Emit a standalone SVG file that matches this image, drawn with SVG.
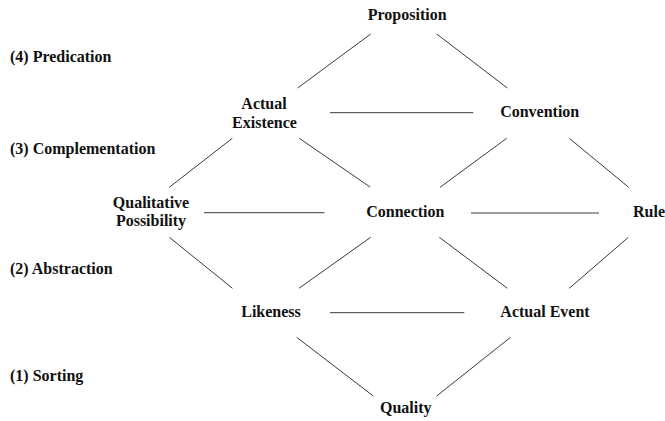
<svg xmlns="http://www.w3.org/2000/svg" width="665" height="421" viewBox="0 0 665 421">
  <style>
    .t { font-family: 'Liberation Serif', 'Times New Roman', 'DejaVu Serif', serif; font-weight: 700; font-size: 16px; fill: #111; }
    .n { text-anchor: middle; }
    .s { text-anchor: start; }
    #connectors line { stroke: #3a3a3a; stroke-width: 1; }
  </style>
  <rect width="665" height="421" fill="#fff"/>

  <!-- level labels down the left margin -->
  <g id="levels" class="t">
    <text class="s" x="10" y="62">(4) Predication</text>
    <text class="s" x="10" y="153.5">(3) Complementation</text>
    <text class="s" x="10" y="274">(2) Abstraction</text>
    <text class="s" x="10" y="381">(1) Sorting</text>
  </g>

  <!-- connectors -->
  <g id="connectors">
    <line x1="370.7" y1="34" x2="297.7" y2="88"/>
    <line x1="436.7" y1="34" x2="507.3" y2="88"/>
    <line x1="330" y1="112.7" x2="473.3" y2="112.7"/>
    <line x1="232.3" y1="138.3" x2="169.3" y2="187.3"/>
    <line x1="299.3" y1="138.3" x2="370" y2="187"/>
    <line x1="506.7" y1="138.3" x2="440" y2="187.3"/>
    <line x1="569.3" y1="138.3" x2="628.7" y2="187.3"/>
    <line x1="204" y1="212.7" x2="324.5" y2="212.7"/>
    <line x1="471" y1="213" x2="599" y2="213"/>
    <line x1="169.3" y1="237.3" x2="232.5" y2="288.3"/>
    <line x1="370.7" y1="237.3" x2="299" y2="288.3"/>
    <line x1="439.3" y1="237.3" x2="507.3" y2="288.3"/>
    <line x1="628.3" y1="237.3" x2="569.3" y2="288.3"/>
    <line x1="330" y1="312.7" x2="464.3" y2="312.7"/>
    <line x1="296.7" y1="337.3" x2="373.3" y2="396"/>
    <line x1="510.5" y1="337.3" x2="436.7" y2="396"/>
  </g>

  <!-- nodes -->
  <g class="t">
    <g id="proposition"><text class="n" x="407.2" y="19.5">Proposition</text></g>
    <g id="actual-existence">
      <text class="n" x="264" y="108.5">Actual</text>
      <text class="n" x="264.5" y="128.3">Existence</text>
    </g>
    <g id="convention"><text class="n" x="539.7" y="117.3">Convention</text></g>
    <g id="qualitative-possibility">
      <text class="n" x="151" y="207.5">Qualitative</text>
      <text class="n" x="151" y="225.8">Possibility</text>
    </g>
    <g id="connection"><text class="n" x="405.3" y="217.3">Connection</text></g>
    <g id="rule"><text class="s" x="633" y="217.3">Rule</text></g>
    <g id="likeness"><text class="n" x="271" y="317.3">Likeness</text></g>
    <g id="actual-event"><text class="n" x="545" y="317.3">Actual Event</text></g>
    <g id="quality"><text class="n" x="405.8" y="413.3">Quality</text></g>
  </g>
</svg>
